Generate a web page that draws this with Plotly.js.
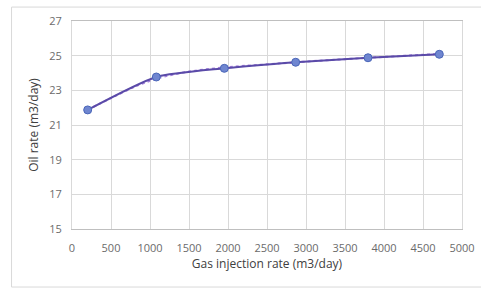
<!DOCTYPE html>
<html><head><meta charset="utf-8">
<script src="https://cdn.plot.ly/plotly-3.0.1.min.js"></script>
<style>html,body{margin:0;padding:0;background:#fff;}#chart{width:481px;height:288px;}</style>
</head><body><div id="chart"></div>
<script>
// Data
var gasRate = [201, 1081, 1953, 2868, 3795, 4709];
var oilRate = [21.87, 23.77, 24.27, 24.62, 24.88, 25.08];
// Dotted trend line
var trendX = [200, 500, 800, 1000, 1100, 1500, 2000, 2500, 3000, 3500, 4000, 4700];
var trendY = [21.88, 22.55, 23.2, 23.55, 23.7, 24.08, 24.34, 24.5, 24.66, 24.8, 24.93, 25.1];
var xTicks = [0, 500, 1000, 1500, 2000, 2500, 3000, 3500, 4000, 4500, 5000];
var yTicks = [15, 17, 19, 21, 23, 25, 27];

var font = "Open Sans, Liberation Sans, sans-serif";
var traces = [
  {x: trendX, y: trendY, mode: 'lines', line: {color: '#a783dc', width: 2, dash: 'dot', shape: 'spline'}, hoverinfo: 'skip'},
  {x: gasRate, y: oilRate, mode: 'lines+markers',
   line: {color: '#5a4aa8', width: 2, shape: 'spline', smoothing: 0.6},
   marker: {size: 8, color: '#6f86d0', line: {color: '#4a66b8', width: 1}}}
];
var layout = {
  width: 481, height: 288,
  margin: {l: 72, r: 19, t: 21, b: 59},
  showlegend: false,
  paper_bgcolor: '#fff', plot_bgcolor: '#fff',
  font: {family: font, color: '#595959', size: 11},
  xaxis: {range: [0, 5000], tickvals: xTicks, ticktext: xTicks.map(String),
    showgrid: true, gridcolor: '#d9d9d9', zeroline: false,
    showline: true, linecolor: '#bfbfbf', mirror: true, ticks: '', ticklabelstandoff: 9,
    tickfont: {size: 11, color: '#6b6b6b'},
    title: {text: 'Gas injection rate (m3/day)', font: {size: 12, color: '#404040'}, standoff: 5}},
  yaxis: {range: [15, 27], tickvals: yTicks, ticktext: yTicks.map(String),
    showgrid: true, gridcolor: '#d9d9d9', zeroline: false,
    showline: true, linecolor: '#d9d9d9', mirror: true, ticks: '', ticklabelstandoff: 7,
    tickfont: {size: 11, color: '#6b6b6b'},
    title: {text: 'Oil rate (m3/day)', font: {size: 12, color: '#404040'}, standoff: 8}},
  shapes: [{type: 'rect', xref: 'paper', yref: 'paper', x0: -0.155, x1: 1.07, y0: -0.279, y1: 1.067,
    line: {color: '#d9d9d9', width: 1}, fillcolor: 'rgba(0,0,0,0)', layer: 'below'}]
};
Plotly.newPlot('chart', traces, layout, {displayModeBar: false, staticPlot: true});
</script></body></html>
